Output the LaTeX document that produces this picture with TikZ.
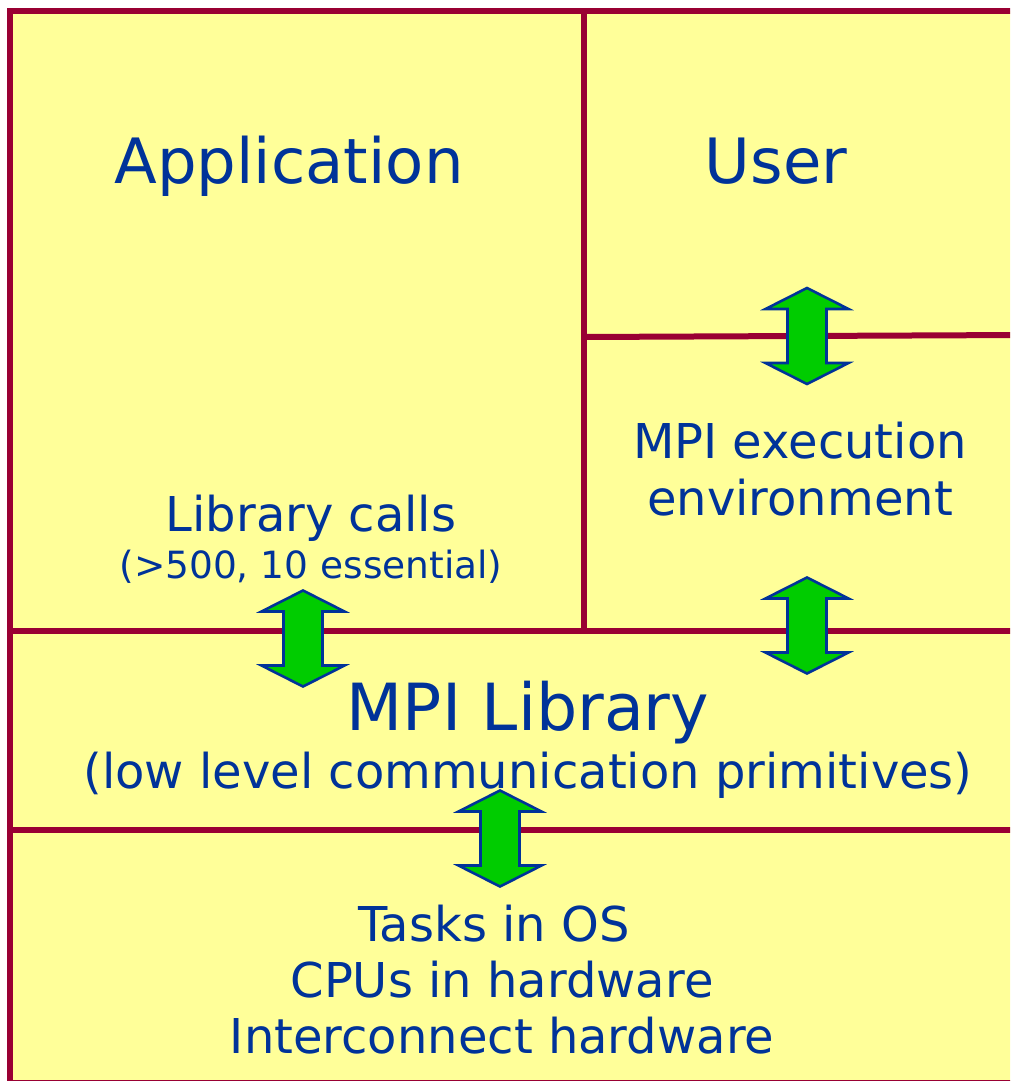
\documentclass[tikz,border=0pt]{standalone}
\usepackage{fontspec}
\setmainfont{DejaVu Sans}
\usetikzlibrary{positioning}
\definecolor{frame_red}{HTML}{990033}
\definecolor{pale_yellow}{HTML}{FFFF99}
\definecolor{text_blue}{HTML}{003399}
\definecolor{arrow_green}{HTML}{00CC00}
\tikzset{
	wall/.style={frame_red,line width=6pt},
	big/.style={text_blue,anchor=base,inner sep=0pt,font=\fontsize{62.5}{70}\selectfont},
	mid/.style={text_blue,anchor=base,inner sep=0pt,font=\fontsize{48}{56}\selectfont},
	small/.style={text_blue,anchor=base,inner sep=0pt,font=\fontsize{37.5}{42}\selectfont},
	updown/.pic={
		\draw[fill=arrow_green,draw=text_blue,line width=2.6pt,line join=miter]
			(0,-48) -- (41.5,-27) -- (19.5,-27) -- (19.5,27) -- (41.5,27) -- (0,48)
			-- (-41.5,27) -- (-19.5,27) -- (-19.5,-27) -- (-41.5,-27) -- cycle;
	}
}

\begin{document}
\begin{tikzpicture}[x=1pt,y=-1pt]
		\useasboundingbox (0,0) rectangle (1010,1081);
		\begin{scope}
		\clip (0,0) rectangle (1010,1081);
		% frame and layers
		\fill[pale_yellow] (10,11) rectangle (1020,1090);
		\draw[wall] (10,1090) -- (10,11) -- (1020,11);
		\draw[wall] (10,1083) -- (1020,1083);
		\draw[wall] (584,11) -- (584,631);
		\draw[wall] (584,337) -- (1020,335);
		\draw[wall] (10,631) -- (1020,631);
		\draw[wall] (10,830) -- (1020,830);
		\end{scope}
		% texts
		\node[big] (app)  at (289,183) {Application};
		\node[big] (user) at (776,183) {User};
		\node[mid] (env1) at (800,458) {MPI execution};
		\node[mid] (env2) at (800,515) {environment};
		\node[mid]   (calls) at (311,531) {Library calls};
		\node[small] (ncall) at (311,578) {(>500, 10 essential)};
		\node[big,font=\fontsize{65}{72}\selectfont] (mpilib) at (528,730) {MPI Library};
		\node[mid] (prims)  at (528,788) {(low level communication primitives)};
		\node[mid] (tasks) at (494,941)  {Tasks in OS};
		\node[mid] (cpus)  at (502,997)  {CPUs in hardware};
		\node[mid] (net)   at (502,1053) {Interconnect hardware};
		% arrows across the layers
		\foreach \x/\y in {807/336,807/625.5,303/638.5,500/838.5}
			\pic at (\x,\y) {updown};
	\end{tikzpicture}
\end{document}
